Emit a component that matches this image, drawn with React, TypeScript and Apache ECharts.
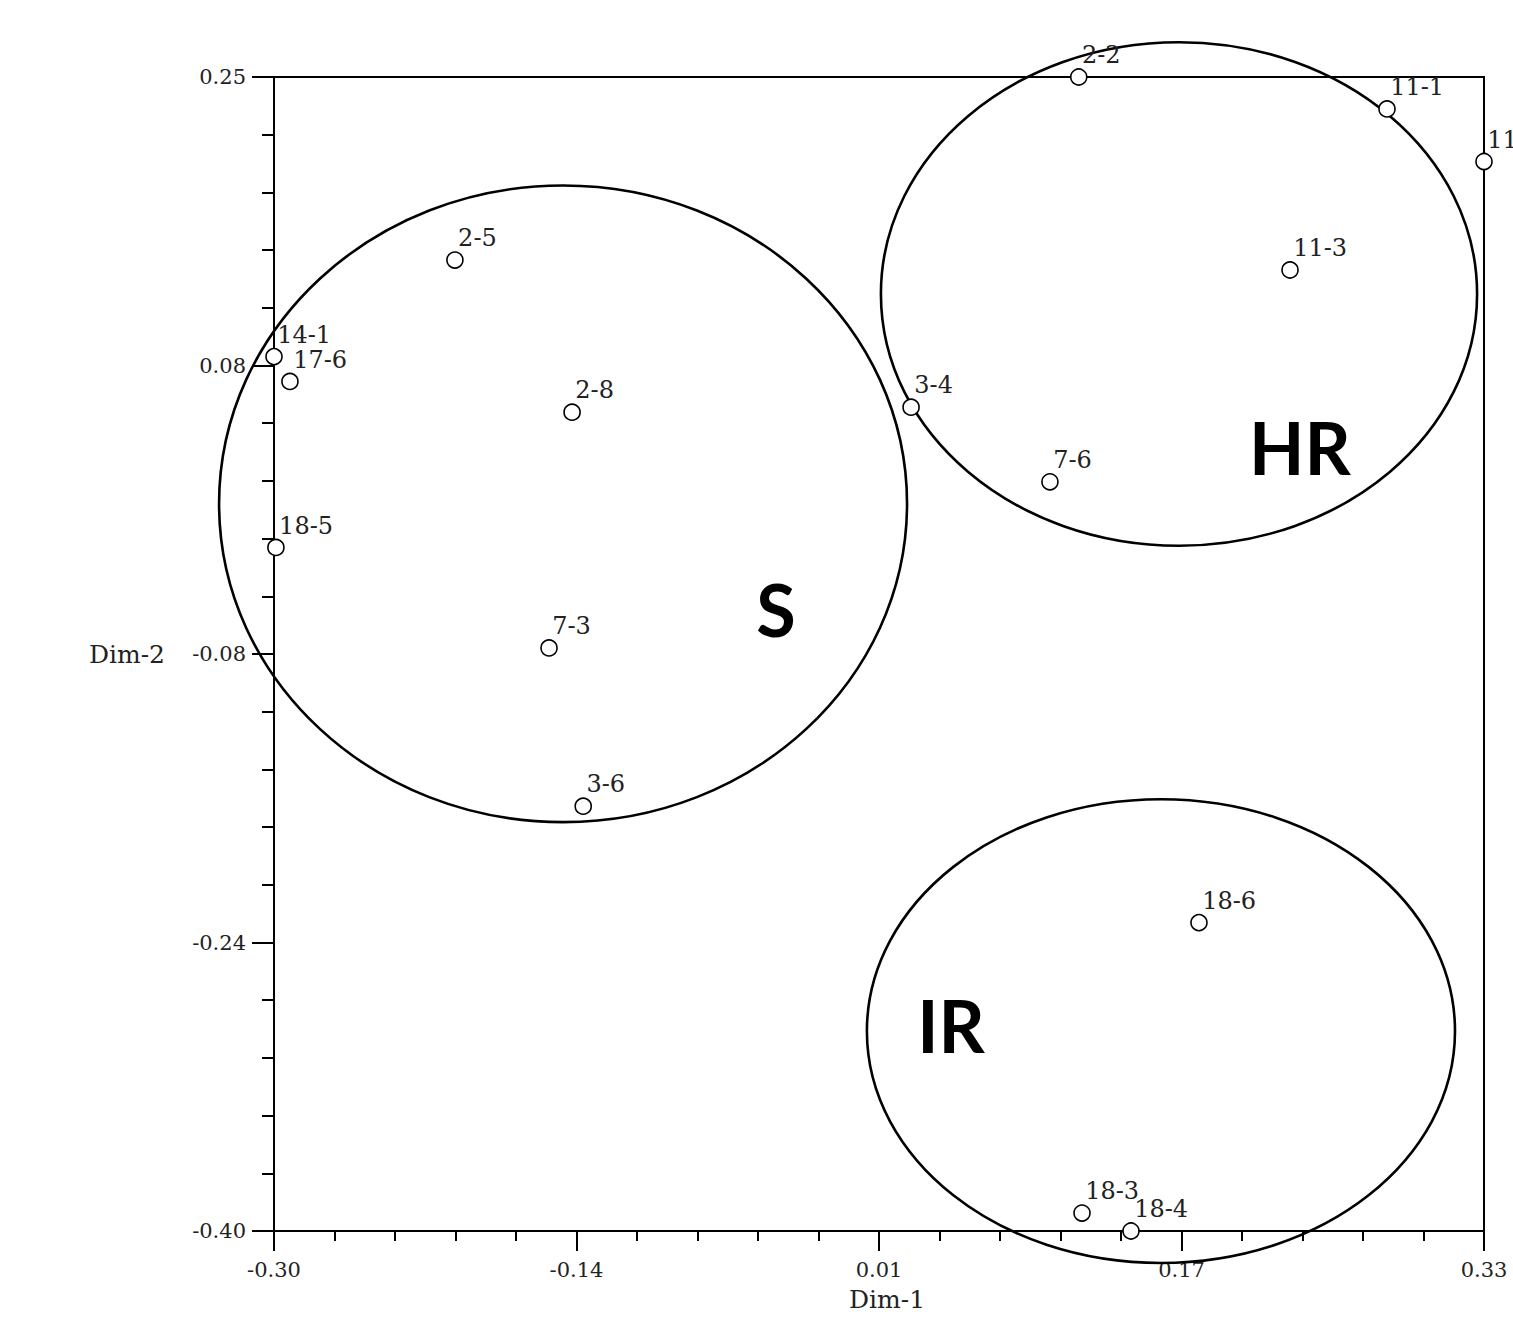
import React, { useEffect, useRef } from "react";
import * as echarts from "echarts";

// Sample points (Dim-1, Dim-2)
const sampleNames = ["2-2", "11-1", "11-2", "11-3", "2-5", "14-1", "17-6", "2-8", "3-4", "7-6", "18-5", "7-3", "3-6", "18-6", "18-3", "18-4"];
const dim1 = [0.119, 0.2795, 0.33, 0.229, -0.2058, -0.3, -0.2917, -0.1448, 0.0317, 0.104, -0.299, -0.1568, -0.139, 0.1816, 0.1207, 0.1462];
const dim2 = [0.25, 0.232, 0.2024, 0.1413, 0.1469, 0.0925, 0.0785, 0.0612, 0.064, 0.022, -0.015, -0.0716, -0.1607, -0.2263, -0.3899, -0.4];

// Cluster ellipses
const clusterNames = ["S", "HR", "IR"];
const clusterCx = [-0.1495, 0.1712, 0.1618];
const clusterCy = [0.0096, 0.1278, -0.2874];
const clusterRx = [0.1791, 0.1552, 0.1531];
const clusterRy = [0.1793, 0.1418, 0.1306];
const clusterLabelX = [-0.0386, 0.2342, 0.0525];
const clusterLabelY = [-0.0498, 0.0416, -0.284];

// Axes
const xMin = -0.3;
const xMax = 0.33;
const yMin = -0.4;
const yMax = 0.25;
const xTickValues = [-0.3, -0.1425, 0.015, 0.1725, 0.33];
const xTickLabels = ["-0.30", "-0.14", "0.01", "0.17", "0.33"];
const yTickValues = [0.25, 0.0875, -0.075, -0.2375, -0.4];
const yTickLabels = ["0.25", "0.08", "-0.08", "-0.24", "-0.40"];
const minorDivisions = 20;

const labelFor = (vals: number[], labels: string[]) => (v: number) => {
  let best = 0;
  for (let i = 1; i < vals.length; i++) if (Math.abs(vals[i] - v) < Math.abs(vals[best] - v)) best = i;
  return labels[best];
};

const minorTicks = (a: number, b: number) => {
  const out: number[] = [];
  for (let i = 0; i <= minorDivisions; i++) out.push(a + ((b - a) * i) / minorDivisions);
  return out;
};

const serif = "DejaVu Serif";

export default function App() {
  const ref = useRef<HTMLDivElement>(null);
  useEffect(() => {
    if (!ref.current) return;
    const chart = echarts.init(ref.current, null, { renderer: "svg" });
    const axisLine = { show: true, onZero: false, lineStyle: { color: "#000", width: 2 } };
    const hiddenLine = { show: false, onZero: false };
    chart.setOption({
      animation: false,
      backgroundColor: "#fff",
      grid: {
        left: 274,
        right: 29,
        top: 77,
        bottom: 80,
        show: true,
        borderColor: "#000",
        borderWidth: 2,
        backgroundColor: "transparent",
      },
      xAxis: [
        {
          type: "value",
          position: "bottom",
          min: xMin,
          max: xMax,
          axisLine,
          axisTick: { show: true, length: 20, customValues: xTickValues, lineStyle: { color: "#000", width: 2 } },
          axisLabel: {
            show: true,
            customValues: xTickValues,
            formatter: labelFor(xTickValues, xTickLabels),
            margin: 28,
            fontFamily: serif,
            fontSize: 21,
            color: "#222",
          },
          splitLine: { show: false },
          name: "Dim-1",
          nameLocation: "middle",
          nameGap: 56,
          nameTextStyle: { fontFamily: serif, fontSize: 25, color: "#222", padding: [0, 0, 0, 16] },
        },
        {
          type: "value",
          position: "bottom",
          min: xMin,
          max: xMax,
          axisLine: hiddenLine,
          axisTick: { show: true, length: 10, customValues: minorTicks(xMin, xMax), lineStyle: { color: "#000", width: 2 } },
          axisLabel: { show: false },
          splitLine: { show: false },
        },
      ],
      yAxis: [
        {
          type: "value",
          position: "left",
          min: yMin,
          max: yMax,
          axisLine,
          axisTick: { show: true, length: 22, customValues: yTickValues, lineStyle: { color: "#000", width: 2 } },
          axisLabel: {
            show: true,
            customValues: yTickValues,
            formatter: labelFor(yTickValues, yTickLabels),
            margin: 28,
            fontFamily: serif,
            fontSize: 21,
            color: "#222",
          },
          splitLine: { show: false },
          name: "Dim-2",
          nameLocation: "middle",
          nameRotate: 0,
          nameGap: 109,
          nameTextStyle: { fontFamily: serif, fontSize: 25, color: "#222" },
        },
        {
          type: "value",
          position: "left",
          min: yMin,
          max: yMax,
          axisLine: hiddenLine,
          axisTick: { show: true, length: 12, customValues: minorTicks(yMin, yMax), lineStyle: { color: "#000", width: 2 } },
          axisLabel: { show: false },
          splitLine: { show: false },
        },
      ],
      series: [
        {
          type: "custom",
          xAxisIndex: 0,
          yAxisIndex: 0,
          clip: false,
          silent: true,
          z: 3,
          data: clusterNames.map((_, i) => [clusterCx[i], clusterCy[i], clusterRx[i], clusterRy[i], clusterLabelX[i], clusterLabelY[i]]),
          renderItem: (params: any, api: any) => {
            const i = params.dataIndex;
            const cx = api.value(0);
            const cy = api.value(1);
            const c = api.coord([cx, cy]);
            const s = api.size([api.value(2), api.value(3)], [cx, cy]);
            const l = api.coord([api.value(4), api.value(5)]);
            return {
              type: "group",
              children: [
                {
                  type: "ellipse",
                  shape: { cx: c[0], cy: c[1], rx: s[0], ry: s[1] },
                  style: { fill: "none", stroke: "#000", lineWidth: 2.6 },
                },
                {
                  type: "text",
                  x: l[0],
                  y: l[1],
                  style: {
                    text: clusterNames[i],
                    fontFamily: "Lato",
                    fontWeight: "bold",
                    fontSize: 72,
                    fill: "#000",
                    align: "center",
                    verticalAlign: "middle",
                  },
                },
              ],
            };
          },
        },
        {
          type: "scatter",
          xAxisIndex: 0,
          yAxisIndex: 0,
          clip: false,
          z: 4,
          symbol: "circle",
          symbolSize: 16,
          itemStyle: { color: "#fff", borderColor: "#000", borderWidth: 1.6, opacity: 1 },
          data: dim1.map((x, i) => [x, dim2[i]]),
          label: {
            show: true,
            formatter: (p: any) => sampleNames[p.dataIndex],
            position: [12, -13],
            align: "left",
            verticalAlign: "middle",
            fontFamily: serif,
            fontSize: 24,
            color: "#222",
          },
        },
      ],
    });
    return () => chart.dispose();
  }, []);
  return (
    <div
      ref={ref}
      style={{ position: "absolute", left: 0, top: 0, width: 1513, height: 1317, overflow: "hidden", background: "#fff" }}
    />
  );
}
